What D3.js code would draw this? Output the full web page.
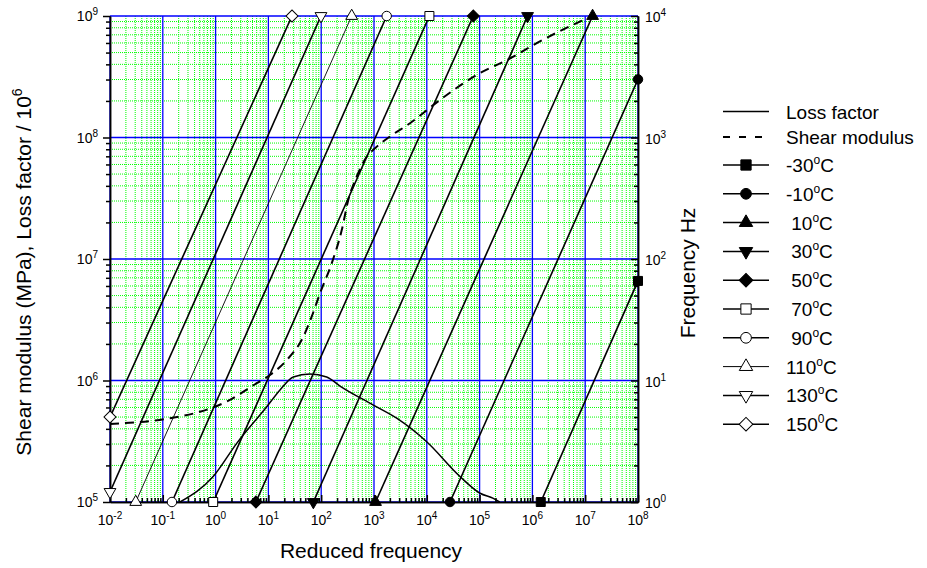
<!DOCTYPE html>
<html>
<head>
<script src="https://cdn.jsdelivr.net/npm/d3@7"></script>
<style>
    body { margin: 0; background: #fff; }
    text { font-family: Arial, "Liberation Sans", sans-serif; fill: #000; }
</style>
</head>
<body>
<svg id="chart" width="927" height="568"></svg>
<script>
    // Tick exponents
    var xExponents = [-2, -1, 0, 1, 2, 3, 4, 5, 6, 7, 8];
    var leftExponents = [5, 6, 7, 8, 9];
    var rightExponents = [0, 1, 2, 3, 4];

    // Shear modulus (dashed) and loss factor (solid), left axis
    var shearFreq = [0.01, 0.137, 0.507, 1.62, 6.0, 10.7, 22.2, 45.8, 66, 94.9, 158, 245, 326, 470, 727, 1045, 2010, 4810, 1.78e4, 8.8e4, 4.35e5, 1.04e6, 1.07e7];
    var shearModulus = [4.39e5, 4.89e5, 5.53e5, 6.7e5, 9.5e5, 1.11e6, 1.47e6, 2.29e6, 3.35e6, 5.22e6, 9.2e6, 1.73e7, 3.06e7, 4.76e7, 6.95e7, 8.15e7, 1.02e8, 1.31e8, 2.04e8, 3.27e8, 4.62e8, 5.77e8, 9.57e8];
    var lossFreq = [0.212, 0.90, 2.51, 9.3, 16.6, 29.7, 61, 127, 227, 970, 2690, 9950, 4.25e4, 1.02e5, 1.82e5, 2.4e5];
    var lossFactor = [1.0e5, 1.62e5, 3.04e5, 6.08e5, 8.36e5, 1.07e6, 1.13e6, 1.07e6, 9.0e5, 6.28e5, 4.89e5, 3.13e5, 1.62e5, 1.18e5, 1.07e5, 1.0e5];

    // Frequency lines per temperature, right axis (start and end points)
    var tempNames = ["-30", "-10", " 10", " 30", " 50", " 70", " 90", "110", "130", "150"];
    var tempDegree = ["o", "o", "o", "o", "o", "o", "o", "o", "o", "0"];
    var tempStartFreq = [1.44e6, 2.75e4, 1070, 71, 5.8, 0.90, 0.149, 0.0307, 0.01, 0.01];
    var tempStartHz = [1, 1, 1, 1, 1, 1, 1, 1, 1.21, 5.0];
    var tempEndFreq = [1e8, 1e8, 1.38e7, 8.1e5, 7.6e4, 1.12e4, 1740, 378, 99, 28];
    var tempEndHz = [66, 3010, 1e4, 1e4, 1e4, 1e4, 1e4, 1e4, 1e4, 1e4];

    // Layout
    var pLeft = 110, pRight = 638, pTop = 16, pBottom = 502;
    var svg = d3.select("svg#chart");

    var x = d3.scaleLog().domain([1e-2, 1e8]).range([pLeft, pRight]);
    var yL = d3.scaleLog().domain([1e5, 1e9]).range([pBottom, pTop]);
    var yR = d3.scaleLog().domain([1, 1e4]).range([pBottom, pTop]);

    function minors(exps) {
        var out = [];
        exps.slice(0, -1).forEach(function(e) {
            for (var k = 2; k <= 9; k++) out.push(k * Math.pow(10, e));
        });
        return out;
    }
    var xMajor = xExponents.map(function(e) { return Math.pow(10, e); });
    var yMajor = leftExponents.map(function(e) { return Math.pow(10, e); });
    var rMajor = rightExponents.map(function(e) { return Math.pow(10, e); });

    // Grid
    var grid = svg.append("g");
    grid.selectAll("line.vm").data(minors(xExponents)).enter().append("line")
        .attr("x1", function(d) { return x(d); }).attr("x2", function(d) { return x(d); })
        .attr("y1", pTop).attr("y2", pBottom)
        .attr("stroke", "#00ff00").attr("stroke-width", 1).attr("stroke-dasharray", "1,1");
    grid.selectAll("line.hm").data(minors(leftExponents)).enter().append("line")
        .attr("x1", pLeft).attr("x2", pRight)
        .attr("y1", function(d) { return yL(d); }).attr("y2", function(d) { return yL(d); })
        .attr("stroke", "#00ff00").attr("stroke-width", 1).attr("stroke-dasharray", "1,1");
    grid.selectAll("line.vM").data(xMajor).enter().append("line")
        .attr("x1", function(d) { return x(d); }).attr("x2", function(d) { return x(d); })
        .attr("y1", pTop).attr("y2", pBottom)
        .attr("stroke", "#0000ff").attr("stroke-width", 1.3);
    grid.selectAll("line.hM").data(yMajor).enter().append("line")
        .attr("x1", pLeft).attr("x2", pRight)
        .attr("y1", function(d) { return yL(d); }).attr("y2", function(d) { return yL(d); })
        .attr("stroke", "#0000ff").attr("stroke-width", 1.3);

    // Axes (ticks only, labels drawn below)
    function axisStyle(g) {
        g.selectAll("path, line").attr("stroke", "#000").attr("stroke-width", 1.5);
        g.selectAll("text").remove();
    }
    svg.append("g").attr("transform", "translate(" + pLeft + ",0)")
        .call(d3.axisLeft(yL).tickValues(yMajor).tickSize(7).tickSizeOuter(0)).call(axisStyle);
    svg.append("g").attr("transform", "translate(" + pLeft + ",0)")
        .call(d3.axisLeft(yL).tickValues(minors(leftExponents)).tickSize(4).tickSizeOuter(0)).call(axisStyle);
    svg.append("g").attr("transform", "translate(0," + pBottom + ")")
        .call(d3.axisBottom(x).tickValues(xMajor).tickSize(-7).tickSizeOuter(0)).call(axisStyle);
    svg.append("g").attr("transform", "translate(0," + pBottom + ")")
        .call(d3.axisBottom(x).tickValues(minors(xExponents)).tickSize(-4).tickSizeOuter(0)).call(axisStyle);
    svg.append("g").attr("transform", "translate(" + pRight + ",0)")
        .call(d3.axisRight(yR).tickValues(rMajor).tickSize(-7).tickSizeOuter(0)).call(axisStyle);
    svg.append("g").attr("transform", "translate(" + pRight + ",0)")
        .call(d3.axisRight(yR).tickValues(minors(rightExponents)).tickSize(-4).tickSizeOuter(0)).call(axisStyle);

    // Power-of-ten labels
    function powLabel(sel, sup) {
        sel.append("tspan").text("10");
        sel.append("tspan").attr("dy", -6).style("font-size", "10px").text(sup);
    }
    xExponents.forEach(function(e) {
        var t = svg.append("text").attr("x", x(Math.pow(10, e))).attr("y", 525)
            .attr("text-anchor", "middle").style("font-size", "14px");
        powLabel(t, e);
    });
    leftExponents.forEach(function(e) {
        var t = svg.append("text").attr("x", 98).attr("y", yL(Math.pow(10, e)) + 5)
            .attr("text-anchor", "end").style("font-size", "14px");
        powLabel(t, e);
    });
    rightExponents.forEach(function(e) {
        var t = svg.append("text").attr("x", 645).attr("y", yR(Math.pow(10, e)) + 6)
            .attr("text-anchor", "start").style("font-size", "14px");
        powLabel(t, e);
    });

    // Axis titles
    svg.append("text").attr("x", 371).attr("y", 558).attr("text-anchor", "middle")
        .style("font-size", "21px").text("Reduced frequency");
    var lt = svg.append("text").attr("transform", "translate(31,272) rotate(-90)")
        .attr("text-anchor", "middle").style("font-size", "21px");
    lt.append("tspan").text("Shear modulus (MPa), Loss factor / 10");
    lt.append("tspan").attr("dy", -9).style("font-size", "14px").text("6");
    svg.append("text").attr("transform", "translate(695,273) rotate(-90)")
        .attr("text-anchor", "middle").style("font-size", "21px").text("Frequency Hz");

    // Curves
    svg.append("clipPath").attr("id", "plotclip").append("rect")
        .attr("x", pLeft).attr("y", pTop).attr("width", pRight - pLeft).attr("height", pBottom - pTop);
    var plot = svg.append("g").attr("clip-path", "url(#plotclip)");

    var shearLine = d3.line().curve(d3.curveMonotoneX)
        .x(function(d, i) { return x(shearFreq[i]); }).y(function(d) { return yL(d); });
    plot.append("path").datum(shearModulus).attr("fill", "none").attr("stroke", "#000")
        .attr("stroke-width", 2).attr("stroke-dasharray", "9,6").attr("d", shearLine);

    var lossLine = d3.line().curve(d3.curveMonotoneX)
        .x(function(d, i) { return x(lossFreq[i]); }).y(function(d) { return yL(d); });
    plot.append("path").datum(lossFactor).attr("fill", "none").attr("stroke", "#000")
        .attr("stroke-width", 1.5).attr("d", lossLine);

    // Temperature lines with end markers
    var shapes = [
        {type: d3.symbolSquare, size: 81, rot: 0, fill: "#000"},
        {type: d3.symbolCircle, size: 70, rot: 0, fill: "#000"},
        {type: d3.symbolTriangle, size: 60, rot: 0, fill: "#000"},
        {type: d3.symbolTriangle, size: 60, rot: 180, fill: "#000"},
        {type: d3.symbolSquare, size: 72, rot: 45, fill: "#000"},
        {type: d3.symbolSquare, size: 81, rot: 0, fill: "#fff"},
        {type: d3.symbolCircle, size: 70, rot: 0, fill: "#fff"},
        {type: d3.symbolTriangle, size: 60, rot: 0, fill: "#fff"},
        {type: d3.symbolTriangle, size: 60, rot: 180, fill: "#fff"},
        {type: d3.symbolSquare, size: 72, rot: 45, fill: "#fff"}
    ];
    var tempLine = d3.line().x(function(d) { return x(d[0]); }).y(function(d) { return yR(d[1]); });
    var tempData = tempNames.map(function(n, i) {
        return [[tempStartFreq[i], tempStartHz[i]], [tempEndFreq[i], tempEndHz[i]]];
    });
    plot.selectAll("path.temp").data(tempData).enter().append("path")
        .attr("fill", "none").attr("stroke", "#000")
        .attr("stroke-width", function(d, i) { return i == 7 ? 0.9 : 1.6; })
        .attr("d", tempLine);
    tempData.forEach(function(pts, i) {
        var s = shapes[i];
        svg.selectAll(null).data(pts).enter().append("path")
            .attr("transform", function(d) { return "translate(" + x(d[0]) + "," + yR(d[1]) + ") rotate(" + s.rot + ")"; })
            .attr("d", d3.symbol().type(s.type).size(s.size))
            .attr("fill", s.fill).attr("stroke", "#000").attr("stroke-width", 1);
    });

    // Legend
    var lx0 = 723, lx1 = 769, ltx = 786;
    var legRows = [111.5, 137];
    var legend = svg.append("g");
    legend.append("line").attr("x1", lx0).attr("x2", lx1).attr("y1", legRows[0]).attr("y2", legRows[0])
        .attr("stroke", "#000").attr("stroke-width", 1.5);
    legend.append("text").attr("x", ltx).attr("y", legRows[0] + 7).style("font-size", "19px").text("Loss factor");
    legend.append("line").attr("x1", lx0).attr("x2", lx1).attr("y1", legRows[1]).attr("y2", legRows[1])
        .attr("stroke", "#000").attr("stroke-width", 2).attr("stroke-dasharray", "7,9");
    legend.append("text").attr("x", ltx).attr("y", legRows[1] + 7).style("font-size", "19px").text("Shear modulus");
    tempNames.forEach(function(n, i) {
        var ly = 165 + i * 28.8, s = shapes[i];
        legend.append("line").attr("x1", lx0).attr("x2", lx1).attr("y1", ly).attr("y2", ly)
            .attr("stroke", "#000").attr("stroke-width", i == 7 ? 1 : 1.5);
        legend.append("path").attr("transform", "translate(" + (lx0 + lx1) / 2 + "," + ly + ") rotate(" + s.rot + ")")
            .attr("d", d3.symbol().type(s.type).size(s.size * 1.3))
            .attr("fill", s.fill).attr("stroke", "#000").attr("stroke-width", 1);
        var t = legend.append("text").attr("x", ltx).attr("y", ly + 7).style("font-size", "19px")
            .style("white-space", "pre").attr("xml:space", "preserve");
        t.append("tspan").text(n);
        t.append("tspan").attr("dy", -8).style("font-size", "12px").text(tempDegree[i]);
        t.append("tspan").attr("dy", 8).text("C");
    });
</script>
</body>
</html>
